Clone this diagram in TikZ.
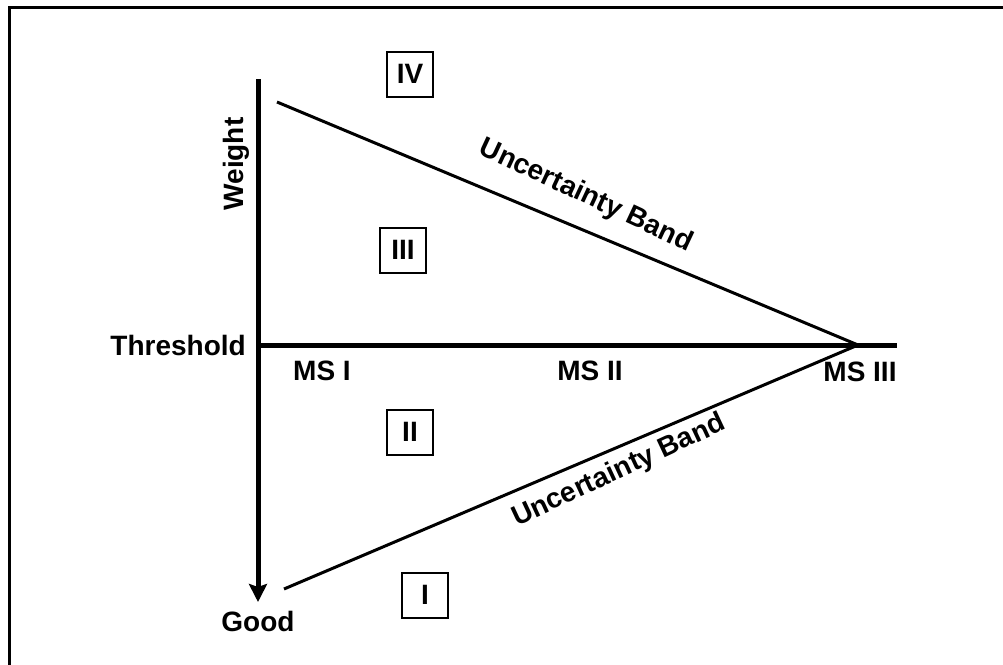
\documentclass[tikz,border=0pt]{standalone}
\usepackage{fontspec}
\setmainfont{Liberation Sans}
\usetikzlibrary{arrows.meta}
\tikzset{lbl/.style = {font=\bfseries\fontsize{28}{32}\selectfont, inner sep=0pt},
  zone/.style = {lbl, draw, line width=2pt, minimum width=46pt, minimum height=45pt}}
\begin{document}
\begin{tikzpicture}[x=1pt, y=-1pt]
  \useasboundingbox (0,0) rectangle (1003,664);
  \draw[line width=3pt] (9.5,7.5) rectangle (1100,760);
  % axes
  \coordinate (top) at (258,79);
  \coordinate (bot) at (258,602);
  \coordinate (org) at (258,345);
  \coordinate (hend) at (897,345);
  \coordinate (apex) at (858,345);
  \coordinate (ua) at (277,102);
  \coordinate (la) at (284,589);
  \draw[line width=5pt, -{Stealth[length=18pt, width=18pt, inset=3pt]}] (top) -- (bot);
  \draw[line width=5pt] (org) -- (hend);
  \draw[line width=3pt] (ua) -- (apex) -- (la);
  \node[lbl, rotate=90] (weight) at (236,164) {Weight};
  \node[lbl, anchor=east] (thr) at (246,345) {Threshold};
  \node[lbl] (good) at (258,621) {Good};
  \node[lbl] (ms1) at (322,371) {MS I};
  \node[lbl] (ms2) at (590,371) {MS II};
  \node[lbl] (ms3) at (860,372) {MS III};
  \node[lbl, rotate=-25] (bandup) at (586,196) {Uncertainty Band};
  \node[lbl, rotate=25] (banddn) at (619,471) {Uncertainty Band};
  % zones
  \node[zone] (z4) at (410,74) {IV};
  \node[zone] (z3) at (403,250) {III};
  \node[zone] (z2) at (410,432) {II};
  \node[zone] (z1) at (425,595) {I};
\end{tikzpicture}
\end{document}
